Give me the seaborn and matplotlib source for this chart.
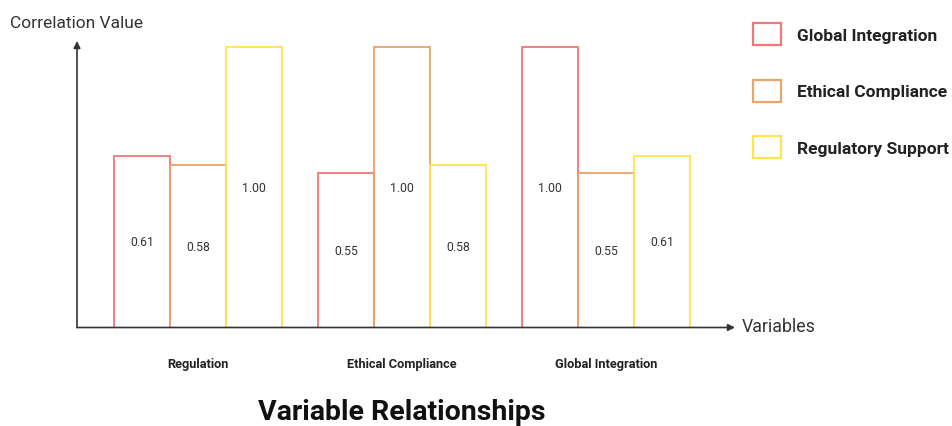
import matplotlib
matplotlib.use("Agg")
import matplotlib.pyplot as plt
import seaborn as sns
import pandas as pd
from matplotlib.patches import Patch

# Data
categories = ["Regulation", "Ethical Compliance", "Global Integration"]
series_names = ["Global Integration", "Ethical Compliance", "Regulatory Support"]
global_integration = [0.61, 0.55, 1.00]
ethical_compliance = [0.58, 1.00, 0.55]
regulatory_support = [1.00, 0.58, 0.61]
colors = ["#F07878", "#ECA468", "#FFE44A"]

df = pd.DataFrame({
    "Variable": categories * 3,
    "Series": [s for s in series_names for _ in categories],
    "Value": global_integration + ethical_compliance + regulatory_support,
})

sns.set_theme(style="white")
plt.rcParams["font.family"] = ["Roboto", "DejaVu Sans"]

W, H = 952, 427
fig = plt.figure(figsize=(W / 100, H / 100), dpi=100)
# axes spans pixel x 77..735, baseline near y=327 from top
ax_left, ax_right = 77, 735
ax_bottom, ax_top = 328.5, 42
unit_px = 281
ax = fig.add_axes([ax_left / W, (H - ax_bottom) / H,
                   (ax_right - ax_left) / W, (ax_bottom - ax_top) / H])

sns.barplot(data=df, x="Variable", y="Value", hue="Series",
            order=categories, hue_order=series_names,
            palette=colors, fill=False, width=0.8235,
            linewidth=1.3, legend=False, ax=ax, errorbar=None)

# Color the outlines per series and print values at bar centres
for container, col in zip(ax.containers, colors):
    for bar in container:
        bar.set_edgecolor(col)
        bar.set_facecolor("none")
        bar.set_linewidth(1.3)
    ax.bar_label(container, labels=[f"{v.get_height():.2f}" for v in container],
                 label_type="center", fontsize=8.8, color="#333333")

px_per_unit = 204
x0 = -(198 - ax_left) / px_per_unit
x1 = x0 + (ax_right - ax_left) / px_per_unit
ax.set_xlim(x0, x1)
ax.set_ylim(0, (ax_bottom - ax_top) / unit_px)

for s in ax.spines.values():
    s.set_visible(False)
ax.set_yticks([])
ax.set_xticks(range(len(categories)))
ax.set_xticklabels(categories, fontsize=9.2, fontweight="bold", color="#222222")
ax.tick_params(axis="x", length=0, pad=21)
ax.set_xlabel("")
ax.set_ylabel("")

# Axis arrows
arrow = dict(arrowstyle="-|>", color="#333333", lw=1.2, mutation_scale=10,
             shrinkA=0, shrinkB=0)
ax.annotate("", xy=(1, 0), xytext=(0, 0), xycoords="axes fraction",
            arrowprops=arrow, annotation_clip=False)
ax.annotate("", xy=(0, 1), xytext=(0, 0), xycoords="axes fraction",
            arrowprops=arrow, annotation_clip=False)

fig.text(742 / W, 1 - 327 / H, "Variables", fontsize=12.8, color="#333333",
         ha="left", va="center")
fig.text(10 / W, 1 - 23 / H, "Correlation Value", fontsize=12.5, color="#333333",
         ha="left", va="center")
fig.text(402 / W, 1 - 413 / H, "Variable Relationships", fontsize=20.5,
         fontweight="bold", color="#111111", ha="center", va="center")

# Legend
handles = [Patch(facecolor="white", edgecolor=c, linewidth=1.6) for c in colors]
leg = fig.legend(handles, series_names, loc="upper left",
                 bbox_to_anchor=(753 / W, 1 - 24 / H), frameon=False,
                 borderpad=0, borderaxespad=0,
                 handlelength=1.6, handleheight=1.6, labelspacing=1.97,
                 handletextpad=0.95, prop={"weight": "bold", "size": 12.5})
for t in leg.get_texts():
    t.set_color("#222222")

fig.savefig("out.png", dpi=100)
